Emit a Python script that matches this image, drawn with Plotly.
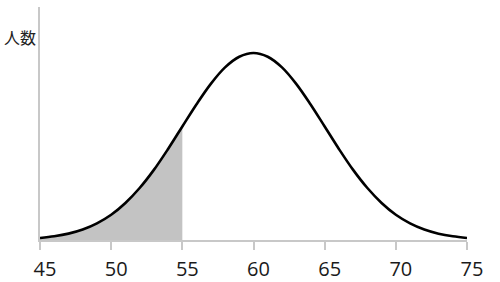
import plotly.graph_objects as go

# scores (x) and relative number of people (y)
scores = list(range(45, 76))
people = [1.1, 2.0, 3.4, 5.6, 8.9, 13.5, 19.8, 27.8, 37.5, 48.7, 60.7,
          72.6, 83.5, 92.3, 98.0, 100.0, 98.0, 92.3, 83.5, 72.6, 60.7,
          48.7, 37.5, 27.8, 19.8, 13.5, 8.9, 5.6, 3.4, 2.0, 1.1]
shade_from, shade_to = 45, 55
tick_vals = [45, 50, 55, 60, 65, 70, 75]
y_label = "人数"

shade_x = [s for s in scores if shade_from <= s <= shade_to]
shade_y = [p for s, p in zip(scores, people) if shade_from <= s <= shade_to]

fig = go.Figure()
fig.add_trace(go.Scatter(x=shade_x, y=shade_y, mode="lines", fill="tozeroy",
                         fillcolor="#c3c3c3", line=dict(width=0, shape="spline"),
                         hoverinfo="skip", showlegend=False))
fig.add_trace(go.Scatter(x=scores, y=people, mode="lines",
                         line=dict(color="black", width=2.6, shape="spline"),
                         showlegend=False))

fig.update_layout(
    width=500, height=282,
    margin=dict(l=40, r=33, t=7, b=42),
    paper_bgcolor="white", plot_bgcolor="white",
    font=dict(family="Open Sans, Noto Sans CJK JP", color="#222222"),
    xaxis=dict(range=[45, 75], tickvals=tick_vals, showgrid=False, zeroline=False,
               showline=True, linecolor="#c8c8c8", linewidth=1.5,
               ticks="outside", ticklen=8, tickcolor="#c8c8c8", tickwidth=1.5,
               ticklabelstandoff=2, ticklabelshift=5, automargin=False,
               tickfont=dict(size=20, color="#1a1a1a")),
    yaxis=dict(range=[0, 124.6], showgrid=False, zeroline=False, showline=True,
               linecolor="#c8c8c8", linewidth=1.5, showticklabels=False, ticks="",
               automargin=False),
    annotations=[dict(text=y_label, xref="paper", yref="paper", x=-0.005, y=0.871,
                      xanchor="right", yanchor="middle", showarrow=False,
                      font=dict(size=16, color="#222222",
                                family="Noto Sans CJK JP"))],
)

fig.write_html("out.html")
